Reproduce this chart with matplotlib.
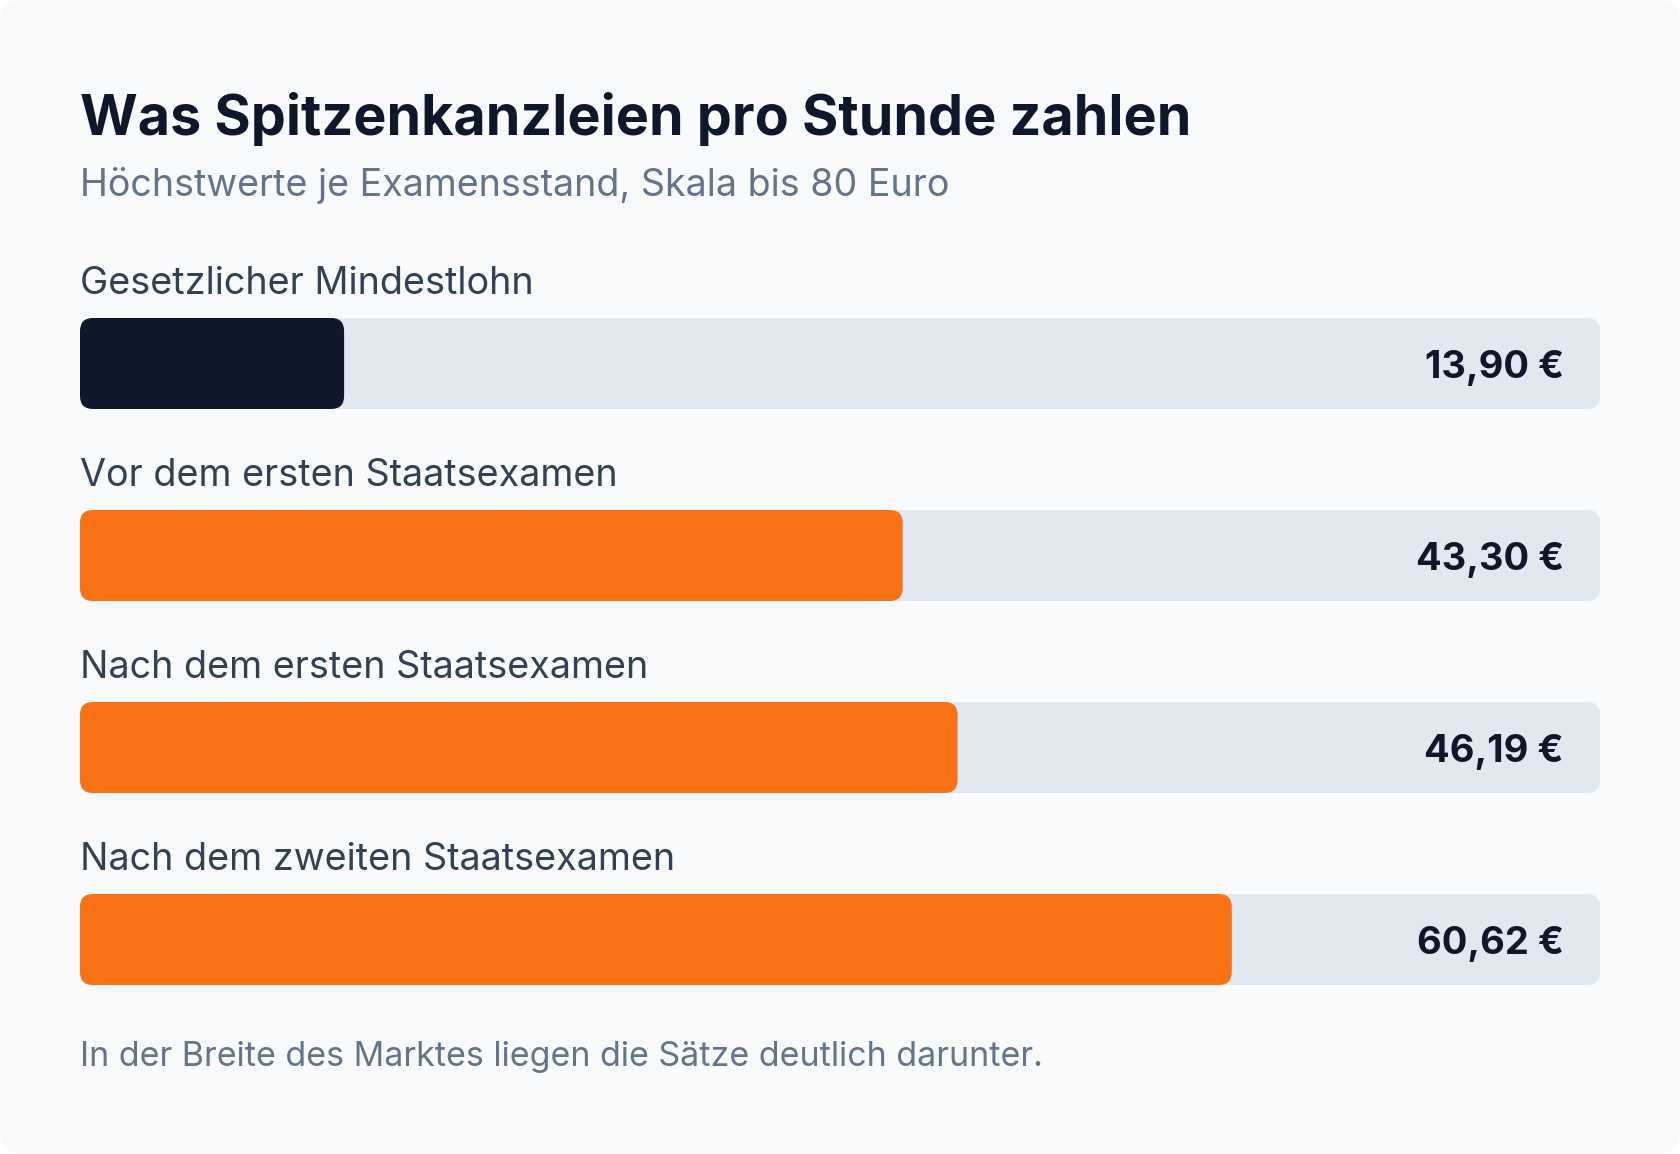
import matplotlib
matplotlib.use("Agg")
import matplotlib.pyplot as plt
from matplotlib.patches import FancyBboxPatch

categories = ["Gesetzlicher Mindestlohn", "Vor dem ersten Staatsexamen",
              "Nach dem ersten Staatsexamen", "Nach dem zweiten Staatsexamen"]
values = [13.90, 43.30, 46.19, 60.62]
value_labels = ["13,90 €", "43,30 €", "46,19 €", "60,62 €"]
bar_colors = ["#0f172a", "#f97316", "#f97316", "#f97316"]
scale_max = 80
title = "Was Spitzenkanzleien pro Stunde zahlen"
subtitle = "Höchstwerte je Examensstand, Skala bis 80 Euro"
footnote = "In der Breite des Marktes liegen die Sätze deutlich darunter."

W, H = 1680, 1154
plt.rcParams['font.family'] = ['Inter', 'DejaVu Sans']
fig = plt.figure(figsize=(W / 100, H / 100), dpi=100)
fig.patch.set_facecolor("white")

# background / card axes in pixel coordinates
bg = fig.add_axes([0, 0, 1, 1])
bg.set_xlim(0, W)
bg.set_ylim(H, 0)
bg.axis("off")
bg.add_patch(FancyBboxPatch((0, 0), W, H, boxstyle="round,pad=0,rounding_size=22",
                            facecolor="#f8fafc", edgecolor="none"))
bg.text(80, 135, title, fontsize=40.05, fontweight="bold", color="#0f172a", va="baseline")
bg.text(80, 196, subtitle, fontsize=27.1, color="#64748b", va="baseline")
bg.text(80, 1066, footnote, fontsize=24.45, color="#64748b", va="baseline")

# bar axes
left, right = 80, 1600
top0, bottom_last = 318, 986
ax = fig.add_axes([left / W, (H - bottom_last) / H, (right - left) / W, (bottom_last - top0) / H])
ax.set_xlim(0, scale_max)
ax.set_ylim(bottom_last, top0)
ax.axis("off")
ax.patch.set_alpha(0)

px_per_x = (right - left) / scale_max
step = 192
bar_h = 91
r_px = 13
for i, (cat, v, lab, c) in enumerate(zip(categories, values, value_labels, bar_colors)):
    top = top0 + i * step
    ax.add_patch(FancyBboxPatch((0, top), scale_max, bar_h,
                                boxstyle=f"round,pad=0,rounding_size={r_px / px_per_x}",
                                mutation_aspect=px_per_x, facecolor="#e2e8f0",
                                edgecolor="none", clip_on=False))
    ax.add_patch(FancyBboxPatch((0, top), v, bar_h,
                                boxstyle=f"round,pad=0,rounding_size={r_px / px_per_x}",
                                mutation_aspect=px_per_x, facecolor=c,
                                edgecolor="none", clip_on=False))
    ax.text(0, top - 24, cat, fontsize=27.2, color="#334155", va="baseline", clip_on=False)
    ax.text(scale_max - 36 / px_per_x, top + 60, lab, fontsize=27.4, fontweight="bold",
            color="#0f172a", ha="right", va="baseline", clip_on=False)

fig.savefig("out.png", dpi=100, facecolor="white")
